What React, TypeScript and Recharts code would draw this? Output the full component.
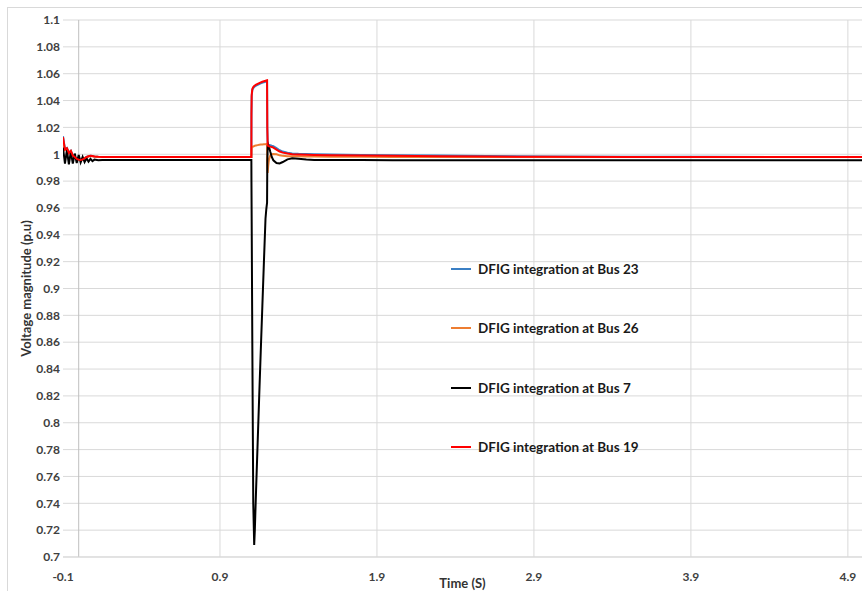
import React from 'react';
import { LineChart, Line, XAxis, YAxis, CartesianGrid, ReferenceLine, Legend } from 'recharts';

const time = [
  -0.1, -0.0875, -0.075, -0.0625, -0.05, -0.0375, -0.025, -0.0125, 0, 0.0125, 0.025, 0.0375,
  0.05, 0.0625, 0.075, 0.0875, 0.1, 0.125, 0.15, 0.2, 0.3, 0.5, 0.8,
  1.1, 1.1005, 1.102, 1.106, 1.112, 1.118, 1.122, 1.13, 1.14, 1.15, 1.16, 1.17, 1.18, 1.19, 1.195, 1.2,
  1.2015, 1.204, 1.207, 1.212, 1.22, 1.23, 1.24, 1.26, 1.28, 1.3, 1.33, 1.36, 1.4, 1.45, 1.5, 1.6, 1.8,
  2.0, 2.3, 2.6, 3.0, 3.5, 4.0, 4.5, 4.99,
];

const bus23 = [
  1.0135, 1.0038, 1.0047, 1.0012, 1.0026, 0.9992, 0.9982, 0.9966, 0.9961, 0.9959, 0.9963, 0.9971,
  0.998, 0.9985, 0.9988, 0.9987, 0.9984, 0.9981, 0.998, 0.998, 0.998, 0.998, 0.998,
  0.998, 1.028, 1.043, 1.0478, 1.0493, 1.0501, 1.0505, 1.0511, 1.0517, 1.0523, 1.0528, 1.0533, 1.0537, 1.054, 1.0542, 1.0544,
  1.02, 1.0075, 1.0072, 1.007, 1.0067, 1.0063, 1.006, 1.0045, 1.003, 1.002, 1.0012, 1.0006, 1.0003, 1.0001, 1.0, 0.9998, 0.9995,
  0.9993, 0.999, 0.9987, 0.9984, 0.9982, 0.9981, 0.998, 0.998,
];

const bus26 = [
  1.01, 1.0032, 1.0042, 1.001, 1.0022, 0.999, 0.998, 0.9965, 0.996, 0.9958, 0.9962, 0.997,
  0.9978, 0.9983, 0.9986, 0.9985, 0.9983, 0.998, 0.998, 0.998, 0.998, 0.998, 0.998,
  0.998, 1.003, 1.0052, 1.0055, 1.0058, 1.0061, 1.0063, 1.0066, 1.0068, 1.007, 1.0072, 1.0073, 1.0074, 1.0075, 1.0076, 1.0077,
  0.992, 0.986, 0.991, 0.996, 0.999, 1.0, 1.0002, 1.0, 0.9992, 0.9988, 0.9986, 0.9985, 0.9985, 0.9984, 0.9983, 0.9982, 0.9981,
  0.998, 0.998, 0.998, 0.998, 0.998, 0.998, 0.998, 0.998,
];

const bus7 = [
  1.005, 0.993, 1.003, 0.9925, 1.002, 0.993, 1.0005, 0.9935, 0.9995, 0.994, 0.998, 0.9942,
  0.997, 0.9945, 0.9965, 0.9948, 0.996, 0.9955, 0.9958, 0.9957, 0.9957, 0.9957, 0.9957,
  0.9957, 0.98, 0.95, 0.86, 0.74, 0.709, 0.72, 0.75, 0.785, 0.82, 0.854, 0.887, 0.92, 0.952, 0.959, 0.964,
  0.995, 1.006, 1.0072, 1.0055, 1.002, 0.998, 0.9955, 0.9935, 0.9932, 0.9942, 0.9962, 0.997, 0.9966, 0.9961, 0.9958, 0.9957, 0.9957,
  0.9956, 0.9956, 0.9956, 0.9956, 0.9956, 0.9956, 0.9956, 0.9956,
];

const bus19 = [
  1.0128, 1.0035, 1.0045, 1.001, 1.0025, 0.999, 0.998, 0.9965, 0.996, 0.9958, 0.9962, 0.997,
  0.998, 0.9985, 0.9988, 0.9987, 0.9984, 0.9981, 0.998, 0.998, 0.998, 0.998, 0.998,
  0.998, 1.03, 1.044, 1.0485, 1.05, 1.0508, 1.0512, 1.0518, 1.0524, 1.053, 1.0535, 1.054, 1.0544, 1.0547, 1.0549, 1.0551,
  1.02, 1.0065, 1.0062, 1.006, 1.0057, 1.0054, 1.005, 1.0035, 1.002, 1.0012, 1.0005, 1.0, 0.9998, 0.9996, 0.9995, 0.9993, 0.9991,
  0.9989, 0.9986, 0.9983, 0.9981, 0.998, 0.998, 0.998, 0.998,
];

const seriesNames = [
  'DFIG integration at Bus 23',
  'DFIG integration at Bus 26',
  'DFIG integration at Bus 7',
  'DFIG integration at Bus 19',
];
const seriesColors = ['#3A7FC4', '#ED7D31', '#000000', '#FF0000'];
const seriesKeys = ['bus23', 'bus26', 'bus7', 'bus19'];

const xTicks = [-0.1, 0.9, 1.9, 2.9, 3.9, 4.9];
const yTicks = [0.7, 0.72, 0.74, 0.76, 0.78, 0.8, 0.82, 0.84, 0.86, 0.88, 0.9, 0.92, 0.94, 0.96, 0.98, 1, 1.02, 1.04, 1.06, 1.08, 1.1];
const xGridTicks = [0.9, 1.9, 2.9, 3.9, 4.9];

const data = time.map((t, i) => ({
  t,
  bus23: bus23[i],
  bus26: bus26[i],
  bus7: bus7[i],
  bus19: bus19[i],
}));

const FONT = 'Lato, "Open Sans", sans-serif';
const tickStyle = { fill: '#404040', fontFamily: FONT, fontWeight: 700, fontSize: 12 };

const LegendContent = () => (
  <div style={{ fontFamily: FONT, fontWeight: 700, fontSize: 13.5, color: '#1a1a1a' }}>
    {seriesNames.map((name, i) => (
      <div key={name} style={{ display: 'flex', alignItems: 'center', height: 20, marginBottom: 39.3, whiteSpace: 'nowrap' }}>
        <div style={{ width: 20, height: 2, background: seriesColors[i], marginRight: 7 }} />
        <span>{name}</span>
      </div>
    ))}
  </div>
);

export default function App() {
  return (
    <div style={{ position: 'fixed', left: 8, top: 8, width: 854, height: 583, outline: '1px solid #d9d9d9', background: '#fff', overflow: 'hidden' }}>
      <LineChart width={854} height={583} data={data} margin={{ top: 12, right: 0, left: 0, bottom: 0 }}>
        <CartesianGrid vertical={false} stroke="#d9d9d9" />
        {xGridTicks.map((x) => (
          <ReferenceLine key={x} x={x} stroke="#d9d9d9" strokeWidth={1} />
        ))}
        <ReferenceLine x={0} stroke="#bfbfbf" strokeWidth={1} />
        <XAxis
          dataKey="t"
          type="number"
          domain={[-0.1, 4.99]}
          ticks={xTicks}
          interval={0}
          allowDataOverflow
          tickLine={false}
          tickSize={0}
          tickMargin={15}
          axisLine={{ stroke: '#d9d9d9' }}
          height={34}
          tick={tickStyle}
          tickFormatter={(v: number) => String(v)}
          label={{ value: 'Time (S)', position: 'insideBottom', offset: 3, style: { fill: '#333', fontFamily: FONT, fontWeight: 700, fontSize: 13 } }}
        />
        <YAxis
          type="number"
          domain={[0.7, 1.1]}
          ticks={yTicks}
          interval={0}
          allowDataOverflow
          width={55}
          axisLine={false}
          tickLine={false}
          tickSize={0}
          tickMargin={3}
          tick={tickStyle}
          tickFormatter={(v: number) => String(v)}
          label={{ value: 'Voltage magnitude (p.u)', angle: -90, position: 'insideLeft', offset: 18, style: { textAnchor: 'middle', fill: '#333', fontFamily: FONT, fontWeight: 700, fontSize: 13 } }}
        />
        <Legend
          layout="vertical"
          align="center"
          verticalAlign="middle"
          wrapperStyle={{ left: 443, top: 251, width: 240 }}
          content={LegendContent}
        />
        {seriesKeys.map((k, i) => (
          <Line
            key={k}
            dataKey={k}
            name={seriesNames[i]}
            stroke={seriesColors[i]}
            strokeWidth={2}
            dot={false}
            activeDot={false}
            type="linear"
            isAnimationActive={false}
          />
        ))}
      </LineChart>
    </div>
  );
}
